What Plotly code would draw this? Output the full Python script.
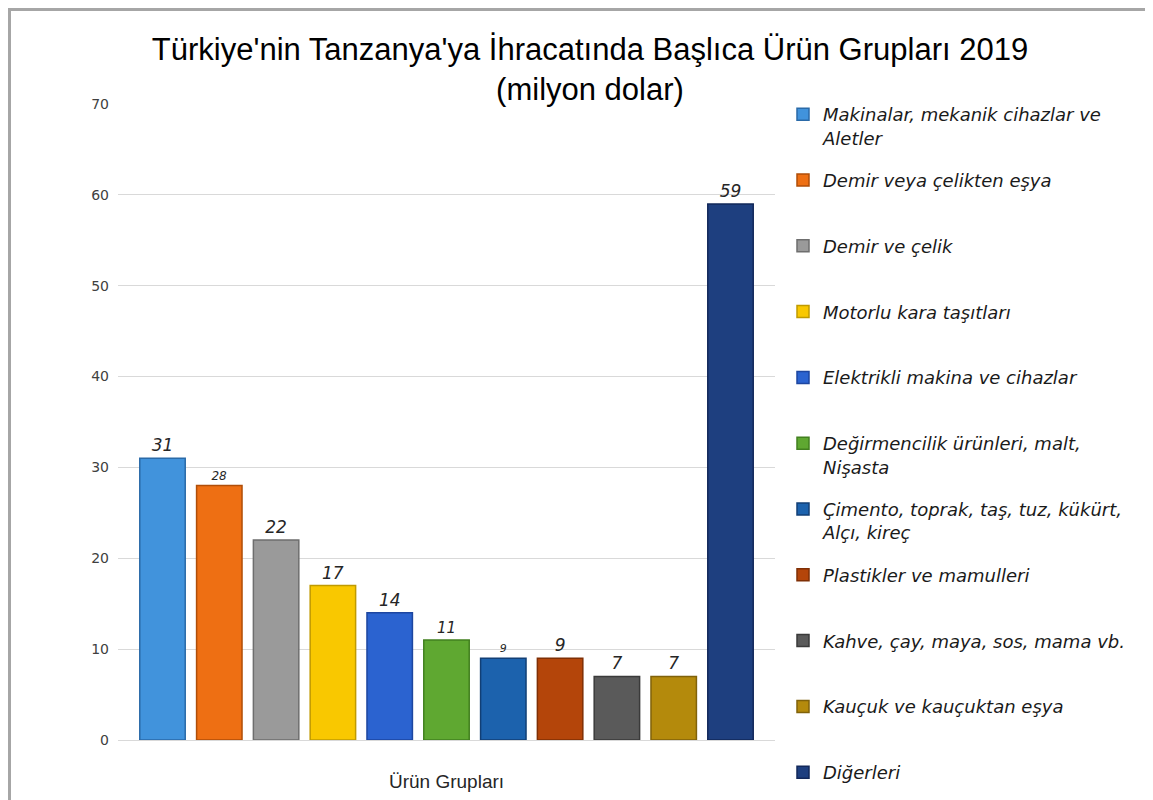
import plotly.graph_objects as go

title_lines = ["Türkiye'nin Tanzanya'ya İhracatında Başlıca Ürün Grupları 2019", "(milyon dolar)"]
category = ["Ürün Grupları"]
groups = [
    "Makinalar, mekanik cihazlar ve<br>Aletler",
    "Demir veya çelikten eşya",
    "Demir ve çelik",
    "Motorlu kara taşıtları",
    "Elektrikli makina ve cihazlar",
    "Değirmencilik ürünleri, malt,<br>Nişasta",
    "Çimento, toprak, taş, tuz, kükürt,<br>Alçı, kireç",
    "Plastikler ve mamulleri",
    "Kahve, çay, maya, sos, mama vb.",
    "Kauçuk ve kauçuktan eşya",
    "Diğerleri",
]
values = [31, 28, 22, 17, 14, 11, 9, 9, 7, 7, 59]
labels = ["31", "28", "22", "17", "14", "11", "9", "9", "7", "7", "59"]
colors = ["#4193dc", "#ee6f13", "#9a9a9a", "#f9c800", "#2b63d0", "#5fa831",
          "#1c62ad", "#b4450a", "#5a5a5a", "#b48a0c", "#1e3f7f"]
lines = ["#2a6aa8", "#b04e08", "#6e6e6e", "#c09a00", "#1d46a0", "#42801f",
         "#123f75", "#7f2f05", "#3a3a3a", "#80620a", "#12285a"]
label_sizes = [17, 12, 17, 17, 17, 15, 11, 17, 17, 17, 17]

W, H = 1145, 792
L, R, T, B = 110, 378, 18, 20
pw, ph = W - L - R, H - T - B
ax_top, ax_bot = 96, 732  # figure px of the y axis ends


def py(fig_px):
    return (H - B - fig_px) / ph


fig = go.Figure()
for i, g in enumerate(groups):
    name = g if ("<br>" in g or i == len(groups) - 1) else g + "<br>\u00a0"
    fig.add_trace(go.Bar(
        x=category, y=[values[i]], name=name, legendgroup=f"g{i}",
        marker=dict(color=colors[i], line=dict(color=lines[i], width=1.5)),
        text=[labels[i]], textposition="outside", cliponaxis=False,
        textfont=dict(family="DejaVu Sans", size=label_sizes[i], color="#262626", style="italic"),
    ))

fig.update_layout(
    width=W, height=H,
    margin=dict(l=L, r=R, t=T, b=B, autoexpand=False),
    paper_bgcolor="white", plot_bgcolor="white",
    barmode="group", bargap=0.049, bargroupgap=0.2,
    title=dict(text="<br>".join(title_lines), x=582/W, xanchor="center",
               y=1-52/H, yanchor="top", yref="container",
               font=dict(family="Liberation Sans", size=31, color="#000000")),
    legend=dict(x=(775-L)/pw, xanchor="left", y=py(88), yanchor="top",
                valign="top", tracegroupgap=16, bgcolor="rgba(0,0,0,0)",
                font=dict(family="DejaVu Sans", size=18, color="#1a1a1a", style="italic")),
    showlegend=True,
)
fig.update_yaxes(range=[0, 70], dtick=10, domain=[py(ax_bot), py(ax_top)],
                 showgrid=True, gridcolor="#d9d9d9", gridwidth=1,
                 zeroline=False, showline=False, ticks="", ticklabelstandoff=8,
                 tickfont=dict(family="DejaVu Sans", size=14, color="#404040"))
fig.update_xaxes(showgrid=False, showline=True, linecolor="#d9d9d9", ticks="",
                 ticklabelstandoff=24,
                 tickfont=dict(family="Liberation Sans", size=19, color="#262626"))
fig.add_shape(type="rect", xref="paper", yref="paper",
              x0=(1.5-L)/pw, x1=2.0, y0=-1.0, y1=py(1.5),
              line=dict(color="#a6a6a6", width=3), fillcolor="rgba(0,0,0,0)", layer="below")

fig.write_html("out.html")
